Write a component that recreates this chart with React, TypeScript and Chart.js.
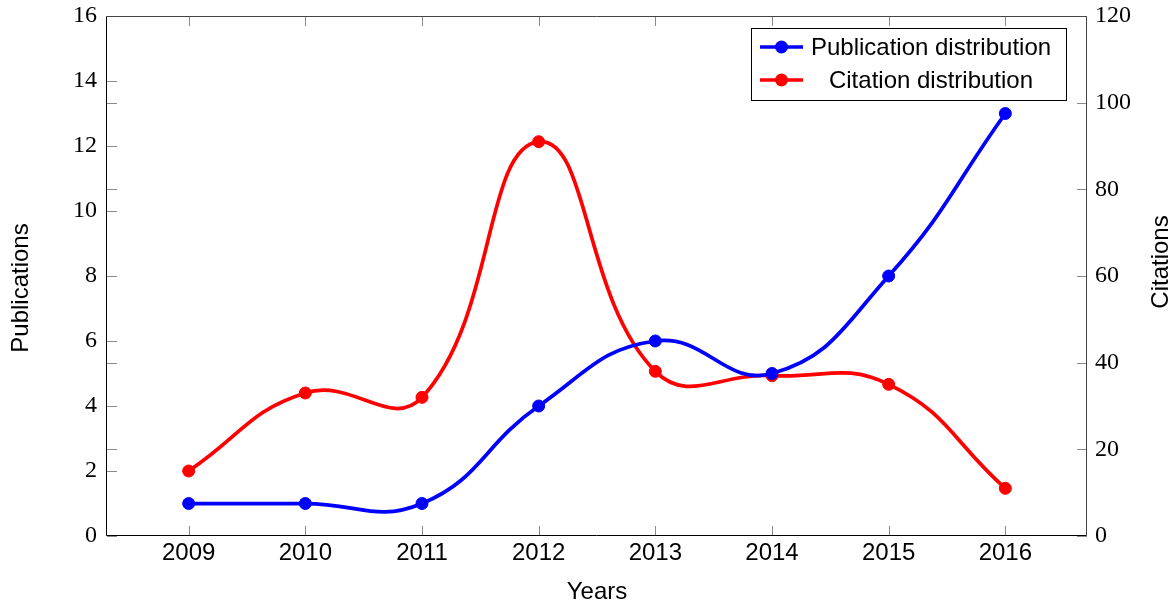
import React, { useEffect, useRef } from "react";
import { Chart, registerables } from "chart.js";

Chart.register(...registerables);

// ---- data ----
const years = [2009, 2010, 2011, 2012, 2013, 2014, 2015, 2016];
const publications = [1, 1, 1, 4, 6, 5, 8, 13];
const citations = [15, 33, 32, 91, 38, 37, 35, 11];
const pubTicks = [0, 2, 4, 6, 8, 10, 12, 14, 16];
const citTicks = [0, 20, 40, 60, 80, 100, 120];
const seriesLabels = ["Publication distribution", "Citation distribution"];
const xTitle = "Years";
const yTitle = "Publications";
const y1Title = "Citations";

const SANS = '"Liberation Sans", Arial, sans-serif';
const SERIF = '"Liberation Serif", "Times New Roman", serif';

const decorPlugin = {
  id: "decor",
  beforeDatasetsDraw(chart: any) {
    const { ctx, chartArea, scales } = chart;
    const { left, right, top, bottom } = chartArea;
    const TL = 10;
    ctx.save();
    ctx.strokeStyle = "#8a8a8a";
    ctx.lineWidth = 1;
    ctx.beginPath();
    for (const v of pubTicks) {
      const p = Math.round(scales.y.getPixelForValue(v)) + 0.5;
      ctx.moveTo(left, p);
      ctx.lineTo(left + TL, p);
    }
    for (const v of citTicks) {
      const p = Math.round(scales.y1.getPixelForValue(v)) + 0.5;
      ctx.moveTo(left, p);
      ctx.lineTo(left + TL, p);
      ctx.moveTo(right, p);
      ctx.lineTo(right - TL, p);
    }
    for (const v of years) {
      const p = Math.round(scales.x.getPixelForValue(v)) + 0.5;
      ctx.moveTo(p, bottom);
      ctx.lineTo(p, bottom - TL);
      ctx.moveTo(p, top);
      ctx.lineTo(p, top + TL);
    }
    ctx.stroke();
    // frame
    const l = Math.round(left) - 0.5;
    const r = Math.round(right) - 0.5;
    const t = Math.round(top) + 0.5;
    const b = Math.round(bottom) - 0.5;
    ctx.strokeStyle = "#444";
    ctx.beginPath();
    ctx.moveTo(l, t);
    ctx.lineTo(r, t);
    ctx.lineTo(r, b);
    ctx.stroke();
    ctx.strokeStyle = "#000";
    ctx.beginPath();
    ctx.moveTo(l, t);
    ctx.lineTo(l, b);
    ctx.lineTo(r, b);
    ctx.stroke();
    ctx.restore();
  },
  afterDraw(chart: any) {
    const { ctx } = chart;
    ctx.save();
    // axis titles (y)
    ctx.fillStyle = "#000";
    ctx.font = "24px " + SANS;
    ctx.textAlign = "center";
    ctx.textBaseline = "middle";
    ctx.save();
    ctx.translate(21, 288);
    ctx.rotate(-Math.PI / 2);
    ctx.fillText(yTitle, 0, 0);
    ctx.restore();
    ctx.save();
    ctx.translate(1161, 262);
    ctx.rotate(-Math.PI / 2);
    ctx.fillText(y1Title, 0, 0);
    ctx.restore();

    // legend
    const bx = 751, by = 28, bw = 315, bh = 72;
    ctx.fillStyle = "#fff";
    ctx.fillRect(bx, by, bw, bh);
    ctx.strokeStyle = "#000";
    ctx.lineWidth = 1;
    ctx.strokeRect(bx + 0.5, by + 0.5, bw, bh);
    const rows = [47, 80];
    chart.data.datasets.forEach((ds: any, i: number) => {
      const cy = rows[i];
      ctx.strokeStyle = ds.borderColor;
      ctx.lineWidth = 3.5;
      ctx.beginPath();
      ctx.moveTo(760, cy);
      ctx.lineTo(803, cy);
      ctx.stroke();
      ctx.fillStyle = ds.borderColor;
      ctx.beginPath();
      ctx.arc(781.5, cy, 6.5, 0, Math.PI * 2);
      ctx.fill();
      ctx.fillStyle = "#000";
      ctx.font = "24px " + SANS;
      ctx.textAlign = "center";
      ctx.textBaseline = "middle";
      ctx.fillText(ds.label, 931, cy + 1);
    });
    ctx.restore();
  },
};

export default function App() {
  const ref = useRef<HTMLCanvasElement | null>(null);

  useEffect(() => {
    if (!ref.current) return;
    const chart = new Chart(ref.current, {
      type: "line",
      data: {
        datasets: [
          {
            label: seriesLabels[0],
            data: years.map((y, i) => ({ x: y, y: publications[i] })),
            borderColor: "#0000ff",
            backgroundColor: "#0000ff",
            borderWidth: 3.75,
            pointRadius: 6,
            pointBorderWidth: 1,
            tension: 0.45,
            yAxisID: "y",
          },
          {
            label: seriesLabels[1],
            data: years.map((y, i) => ({ x: y, y: citations[i] })),
            borderColor: "#ff0000",
            backgroundColor: "#ff0000",
            borderWidth: 3.75,
            pointRadius: 6,
            pointBorderWidth: 1,
            tension: 0.45,
            yAxisID: "y1",
          },
        ],
      },
      options: {
        responsive: false,
        animation: false,
        devicePixelRatio: 1,
        layout: { padding: { top: 16, left: 0, right: 0, bottom: 0 } },
        plugins: {
          legend: { display: false },
          tooltip: { enabled: false },
        },
        scales: {
          x: {
            type: "linear",
            position: "bottom",
            min: 2008.3,
            max: 2016.7,
            afterBuildTicks: (s: any) => {
              s.ticks = years.map((v) => ({ value: v }));
            },
            afterFit: (s: any) => {
              s.height = 69;
            },
            grid: { display: false, drawTicks: false },
            border: { display: false },
            ticks: {
              autoSkip: false,
              maxRotation: 0,
              padding: 3,
              color: "#000",
              font: { family: SANS, size: 24 },
              callback: (v: any) => String(v),
            },
            title: {
              display: true,
              text: xTitle,
              color: "#000",
              font: { family: SANS, size: 24, lineHeight: 1 },
              padding: { top: 0, bottom: 1 },
            },
          },
          y: {
            type: "linear",
            position: "left",
            min: 0,
            max: 16,
            afterBuildTicks: (s: any) => {
              s.ticks = pubTicks.map((v) => ({ value: v }));
            },
            afterFit: (s: any) => {
              s.width = 107;
            },
            grid: { display: false, drawTicks: false },
            border: { display: false },
            ticks: {
              padding: 10,
              color: "#000",
              font: { family: SERIF, size: 24, lineHeight: 0.4 },
              callback: (v: any) => String(v),
            },
          },
          y1: {
            type: "linear",
            position: "right",
            min: 0,
            max: 120,
            afterBuildTicks: (s: any) => {
              s.ticks = citTicks.map((v) => ({ value: v }));
            },
            afterFit: (s: any) => {
              s.width = 89;
            },
            grid: { display: false, drawTicks: false },
            border: { display: false },
            ticks: {
              padding: 8,
              color: "#000",
              font: { family: SERIF, size: 24, lineHeight: 0.4 },
              callback: (v: any) => String(v),
            },
          },
        },
      },
      plugins: [decorPlugin],
    } as any);
    return () => chart.destroy();
  }, []);

  return (
    <div style={{ position: "absolute", left: 0, top: 0, width: 1176, height: 605, background: "#fff" }}>
      <canvas ref={ref} width={1176} height={605} style={{ display: "block" }} />
    </div>
  );
}
